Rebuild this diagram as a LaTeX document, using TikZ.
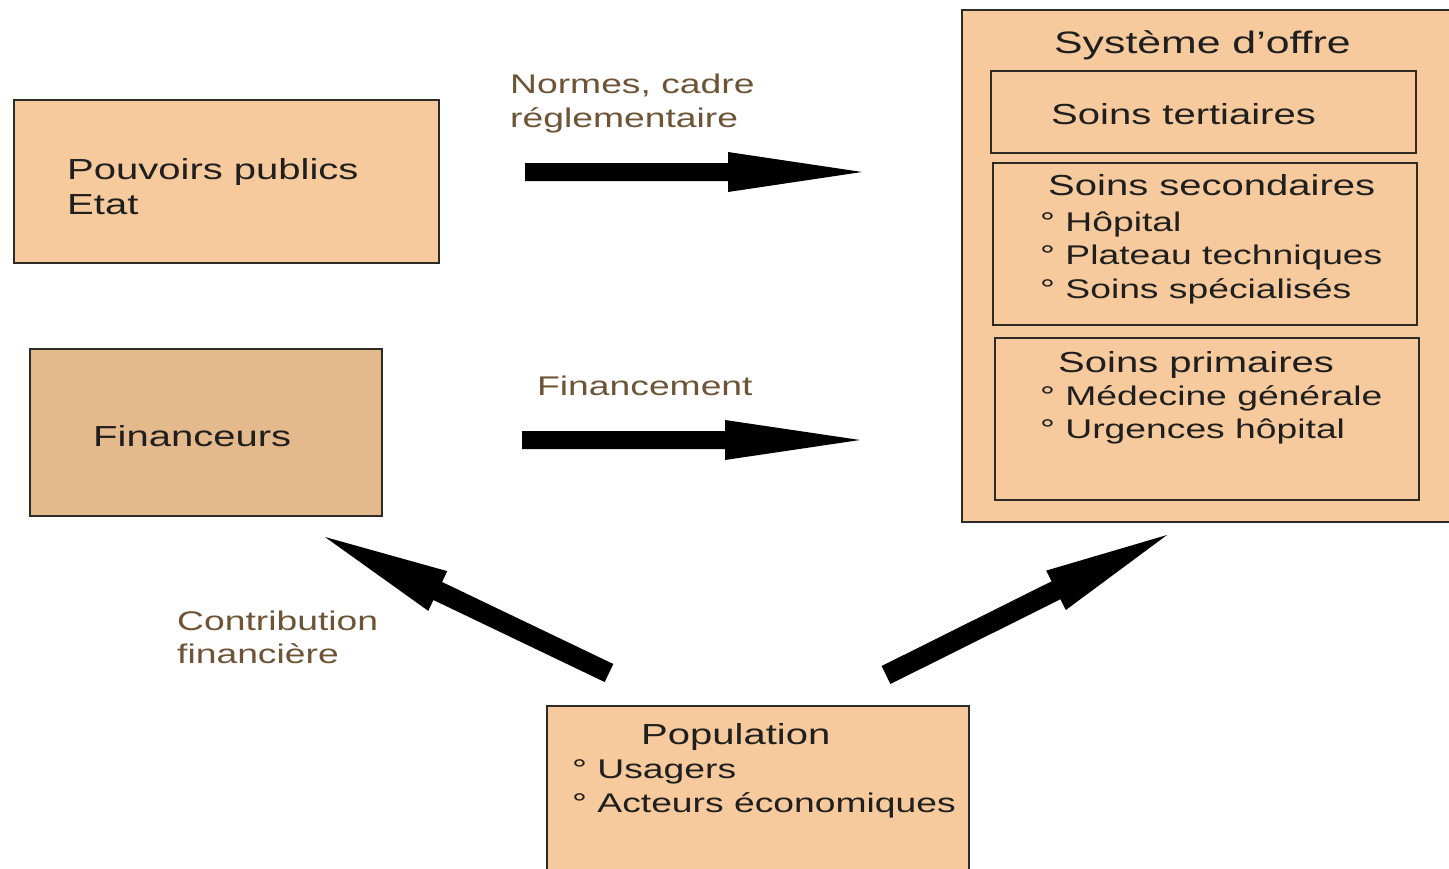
\documentclass[tikz,border=0pt]{standalone}
\usepackage{fontspec}
\usetikzlibrary{calc}
\newfontfamily\bx{Liberation Sans}[FakeStretch=1.38]

\definecolor{peach}{HTML}{F6CA9C}
\definecolor{peachdark}{HTML}{E4B98B}
\definecolor{edge}{HTML}{2E2A26}
\definecolor{labelbrown}{HTML}{6E5436}

% Thick block arrow: tail, tip, head length, head half-width, shaft half-width
\newcommand\fatarrow[6]{%
  \coordinate (#6h) at ($(#2)!#3pt!(#1)$);
  \fill[black]
    ($(#1)!#5pt!90:(#2)$) -- ($(#6h)!#5pt!90:(#2)$) -- ($(#6h)!#4pt!90:(#2)$)
    -- (#2)
    -- ($(#6h)!#4pt!-90:(#2)$) -- ($(#6h)!#5pt!-90:(#2)$) -- ($(#1)!#5pt!-90:(#2)$)
    -- cycle;
}

\begin{document}
\begin{tikzpicture}[x=1pt,y=-1pt,
  box/.style={draw=edge, line width=2.6pt, fill=peach},
  txt/.style={anchor=base west, inner sep=0pt, text=black!88,
    font=\bx\fontsize{29}{35}\selectfont},
  item/.style={txt, font=\bx\fontsize{27}{33}\selectfont},
  title/.style={txt, font=\bx\fontsize{31}{37}\selectfont},
  lbl/.style={anchor=base west, inner sep=0pt, text=labelbrown,
    font=\bx\fontsize{27}{33}\selectfont}]
\useasboundingbox (0,0) rectangle (1449,868);
\fill[white] (0,0) rectangle (1449,868);

% Pouvoirs publics
\draw[box] (14,100) rectangle (439,263);
\node[txt] (pp1) at (67,179) {Pouvoirs publics};
\node[txt] (pp2) at (67,214) {Etat};

% Financeurs
\draw[box, fill=peachdark] (30,349) rectangle (382,516);
\node[txt] (fin) at (93,446) {Financeurs};

% Système d'offre
\draw[box] (962,10) rectangle (1452,522);
\node[title] (sys) at (1054,53) {Système d’offre};

\draw[box] (991,71) rectangle (1416,153);
\node[txt] (tert) at (1051,124) {Soins tertiaires};

\draw[box] (993,163) rectangle (1417,325);
\node[txt] (sec) at (1048,195) {Soins secondaires};
\node[item] (sec1) at (1040,231) {° Hôpital};
\node[item] (sec2) at (1040,264) {° Plateau techniques};
\node[item] (sec3) at (1040,298) {° Soins spécialisés};

\draw[box] (995,338) rectangle (1419,500);
\node[txt] (prim) at (1058,372) {Soins primaires};
\node[item] (prim1) at (1040,405) {° Médecine générale};
\node[item] (prim2) at (1040,438) {° Urgences hôpital};

% Population
\draw[box] (547,706) rectangle (969,880);
\node[txt] (pop) at (641,744) {Population};
\node[item] (pop1) at (572,778) {° Usagers};
\node[item] (pop2) at (572,812) {° Acteurs économiques};

% Flow labels
\node[lbl] (l1a) at (510,93) {Normes, cadre};
\node[lbl] (l1b) at (510,127) {réglementaire};
\node[lbl] (l2) at (537,395) {Financement};
\node[lbl] (l3a) at (177,630) {Contribution};
\node[lbl] (l3b) at (177,663) {financière};

% Arrow end points
\coordinate (a1t) at (525,172);
\coordinate (a1h) at (862,172);
\coordinate (a2t) at (522,440);
\coordinate (a2h) at (860,440);
\coordinate (a3t) at (609,673);
\coordinate (a3h) at (325,537);
\coordinate (a4t) at (886,675);
\coordinate (a4h) at (1167,535);

\fatarrow{a1t}{a1h}{134}{20}{9}{ar1}
\fatarrow{a2t}{a2h}{135}{20}{9}{ar2}
\fatarrow{a3t}{a3h}{125}{22}{10}{ar3}
\fatarrow{a4t}{a4h}{124}{22}{10}{ar4}
\end{tikzpicture}
\end{document}
